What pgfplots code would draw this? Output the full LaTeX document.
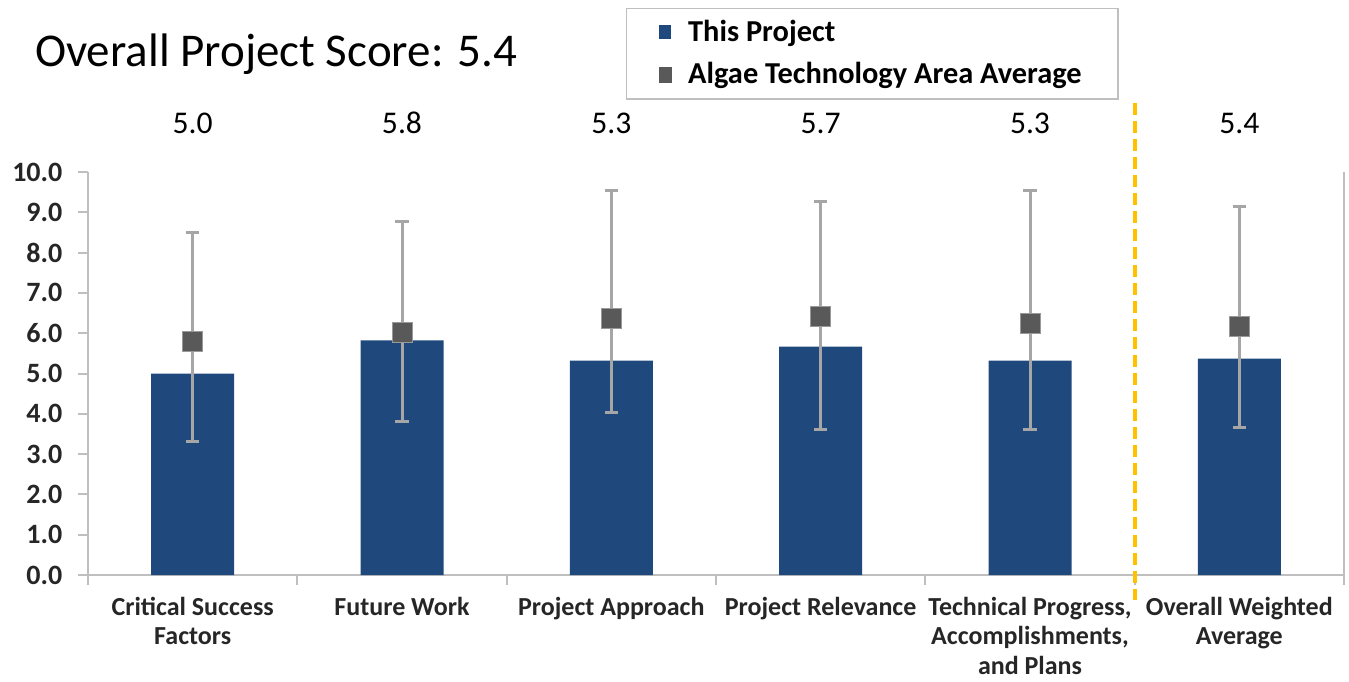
\documentclass[border=0pt]{standalone}
\usepackage{pgfplots}
\usepackage{pgfplotstable}
\pgfplotsset{compat=1.18}
\usepackage{fontspec}
\setmainfont{Carlito}
\definecolor{barblue}{HTML}{1F497D}
\definecolor{markgray}{HTML}{595959}
\definecolor{errgray}{HTML}{A6A6A6}
\definecolor{axgray}{HTML}{BFBFBF}
\definecolor{dashorange}{HTML}{FFC000}

\pgfplotstableread{
x bar avg plus minus
0 5.00 5.80 2.70 2.49
1 5.82 6.02 2.76 2.22
2 5.32 6.37 3.16 2.34
3 5.67 6.42 2.86 2.82
4 5.32 6.24 3.29 2.64
5 5.37 6.17 2.98 2.51
}\scores

\begin{document}
\begin{tikzpicture}
\useasboundingbox (-44pt,-53pt) rectangle (630.5pt,287.5pt);
\begin{axis}[
  at={(0,0)}, anchor=south west,
  scale only axis, width=628pt, height=201.5pt,
  xmin=-0.5, xmax=5.5, ymin=0, ymax=10,
  clip=false,
  axis x line*=bottom, axis y line*=box,
  axis line style={axgray, line width=1pt},
  xtick={0,1,2,3,4,5},
  xticklabels={{Critical Success\\Factors}, {Future Work}, {Project Approach}, {Project Relevance}, {Technical Progress,\\Accomplishments,\\and Plans}, {Overall Weighted\\Average}},
  minor xtick={-0.5,0.5,1.5,2.5,3.5,4.5,5.5},
  ytick={0,1,...,10},
  tick align=outside,
  ytick pos=left, xtick pos=bottom,
  major tick length=5pt, minor tick length=5pt,
  every tick/.style={axgray, line width=1pt},
  major x tick style={draw=none},
  xticklabel style={font=\bfseries\fontsize{13}{14.8}\selectfont, align=center, inner ysep=1pt, yshift=-4.8pt, text=black!85},
  yticklabel style={font=\bfseries\fontsize{14}{14}\selectfont, xshift=-4.3pt, text=black!85,
     /pgf/number format/.cd, fixed, fixed zerofill, precision=1, assume math mode=true},
  legend style={at={(0.4283,1.408)}, anchor=north west, draw=axgray, line width=0.75pt, fill=white,
     font=\bfseries\fontsize{15.2}{17}\selectfont, inner xsep=16pt, inner ysep=4pt, row sep=5pt,
     cells={anchor=west}, /tikz/every odd column/.append style={column sep=6pt}},
  legend cell align=left,
]
\addplot[ybar, bar width=41.5pt, fill=barblue, draw=none,
  legend image code/.code={\fill[barblue] (0pt,-3.5pt) rectangle (6pt,3.5pt);}]
  table[x=x, y=bar] {\scores};
\addlegendentry{This Project}
\addplot[only marks, mark=square*, mark size=5pt, mark options={fill=markgray, draw=gray!80, line width=0.5pt},
  legend image code/.code={\fill[markgray] (0pt,-3.5pt) rectangle (6pt,3.5pt);},
  error bars/.cd, y dir=both, y explicit,
  error bar style={errgray, line width=1.5pt},
  error mark options={errgray, line width=1.5pt, mark size=3.3pt, rotate=90}]
  table[x=x, y=avg, y error plus=plus, y error minus=minus] {\scores};
\addlegendentry{Algae Technology Area Average}
\addplot[dashorange, line width=2pt, dash pattern=on 6pt off 3pt, forget plot]
  coordinates {(4.5,11.7) (4.5,-0.62)};
\node[anchor=base west, font=\fontsize{23.5}{28}\selectfont] at (rel axis cs:-0.0478,1.261) {Overall Project Score: 5.4};
\node[anchor=base, font=\fontsize{15.8}{18}\selectfont] at (axis cs:0,10.945) {5.0};
\node[anchor=base, font=\fontsize{15.8}{18}\selectfont] at (axis cs:1,10.945) {5.8};
\node[anchor=base, font=\fontsize{15.8}{18}\selectfont] at (axis cs:2,10.945) {5.3};
\node[anchor=base, font=\fontsize{15.8}{18}\selectfont] at (axis cs:3,10.945) {5.7};
\node[anchor=base, font=\fontsize{15.8}{18}\selectfont] at (axis cs:4,10.945) {5.3};
\node[anchor=base, font=\fontsize{15.8}{18}\selectfont] at (axis cs:5,10.945) {5.4};
\end{axis}
\end{tikzpicture}
\end{document}
